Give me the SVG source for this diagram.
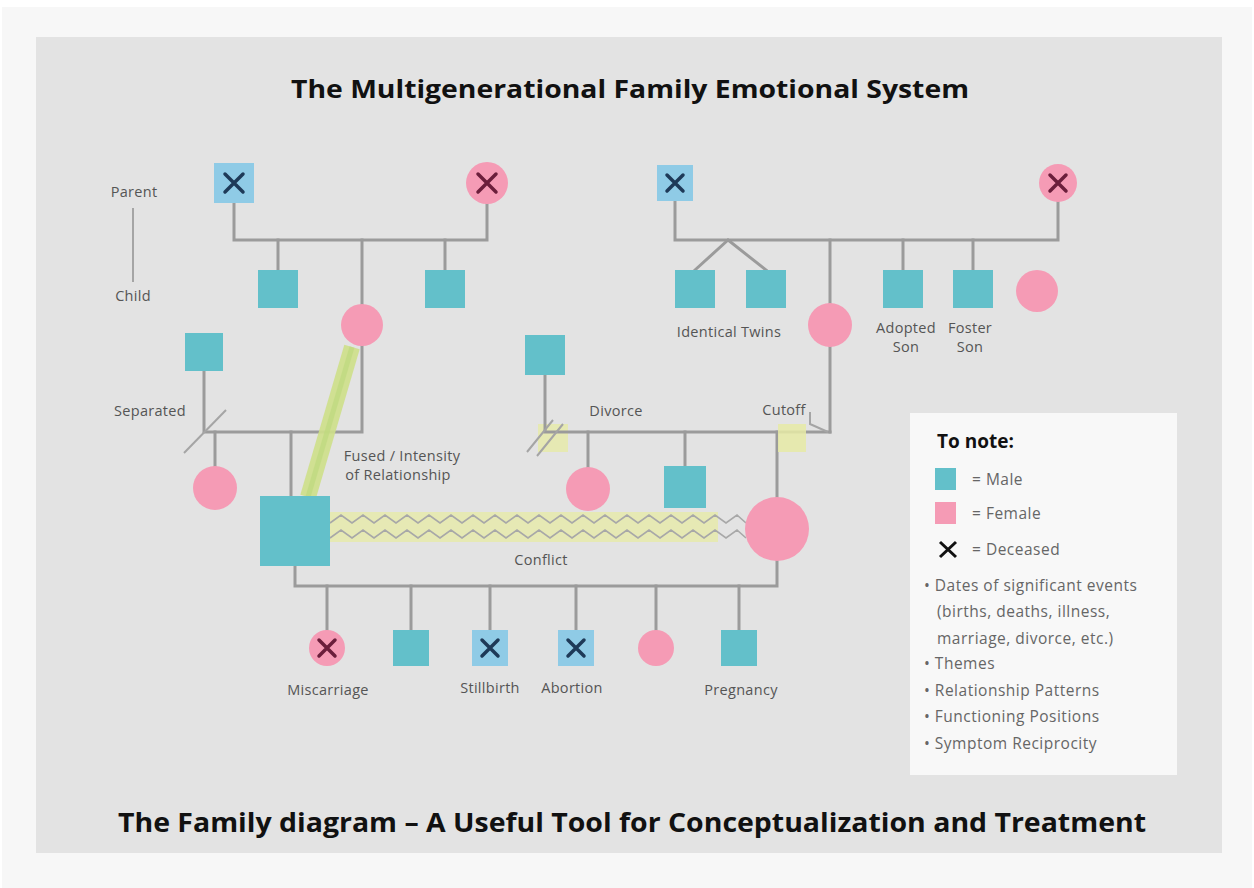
<svg xmlns="http://www.w3.org/2000/svg" width="1254" height="888" viewBox="0 0 1254 888">
<defs>
<style>
.ln{stroke:#9b9b9b;stroke-width:3;fill:none;stroke-linecap:square}
.thin{stroke:#a5a5a5;stroke-width:2;fill:none}
.m{fill:#63c0ca}
.mb{fill:#8fcbe6}
.f{fill:#f59bb5}
.xm{stroke:#1e3a58;stroke-width:3.5;stroke-linecap:round}
.xf{stroke:#6b1e3b;stroke-width:3.5;stroke-linecap:round}
.lbl{font-family:"Open Sans","Liberation Sans",sans-serif;font-size:14.5px;letter-spacing:0.3px;fill:#555;text-anchor:middle}
.ttl{font-family:"Open Sans","Liberation Sans",sans-serif;font-weight:700;fill:#111;text-anchor:middle}
.leg{font-family:"Open Sans","Liberation Sans",sans-serif;font-size:15.5px;letter-spacing:0.5px;fill:#666}
.zig{stroke:#a8a8a8;stroke-width:1.6;fill:none}
</style>
</defs>
<rect x="0" y="0" width="1254" height="888" fill="#ffffff"/>
<rect x="2" y="7" width="1250" height="881" fill="#f7f7f7"/>
<rect x="36" y="37" width="1186" height="816" fill="#e3e3e3"/>

<g id="titles">
<text class="ttl" x="630" y="98" font-size="25" textLength="678" lengthAdjust="spacingAndGlyphs">The Multigenerational Family Emotional System</text>
<text class="ttl" x="632" y="832" font-size="27" textLength="1028" lengthAdjust="spacingAndGlyphs">The Family diagram – A Useful Tool for Conceptualization and Treatment</text>
</g>

<g id="connectors">
<!-- legend parent/child -->
<path class="thin" d="M133,208 V282"/>
<!-- top-left family -->
<path class="ln" d="M234,203 V240 H487 V204"/>
<path class="ln" d="M278,240 V270 M362,240 V304 M445,240 V270"/>
<!-- top-right family -->
<path class="ln" d="M675,201 V240 H1058 V202"/>
<path class="ln" d="M728,240 L695,270 M728,240 L766,270"/>
<path class="ln" d="M830,240 V303 M830,347 V432"/>
<path class="ln" d="M903,240 V270 M973,240 V270"/>
<!-- left couple (separated) -->
<path class="ln" d="M204,371 V432 H362 V346"/>
<path class="ln" d="M215,432 V466 M291,432 V496"/>
<path class="thin" d="M184,453 L226,410"/>
<!-- right couple (divorced) -->
<rect x="538" y="424" width="30" height="28" fill="#e6eaa6" opacity="0.8"/>
<path class="ln" d="M545,375 V432 H830"/>
<path class="ln" d="M588,432 V467 M685,432 V466 M777,432 V497"/>
<path class="thin" d="M527,452 L553,420 M537,456 L563,424"/>
<!-- cutoff -->
<rect x="778" y="424" width="28" height="28" fill="#e6eaa6" opacity="0.85"/>
<path class="thin" d="M810,412 V424 L828,432"/>
<!-- fused / intensity band -->
<line x1="352" y1="347" x2="308" y2="497" stroke="#cfe08a" stroke-width="16" opacity="0.9"/>
<line x1="352" y1="347" x2="308" y2="497" stroke="#bcd97c" stroke-width="5" opacity="0.6"/>
<!-- conflict -->
<rect x="330" y="512" width="388" height="30" fill="#e6e9b4"/>
<polyline class="zig" points="330,523 341,515 352,523 363,515 374,523 385,515 396,523 407,515 418,523 429,515 440,523 451,515 462,523 473,515 484,523 495,515 506,523 517,515 528,523 539,515 550,523 561,515 572,523 583,515 594,523 605,515 616,523 627,515 638,523 649,515 660,523 671,515 682,523 693,515 704,523 715,515 726,523 737,515 746,523"/>
<polyline class="zig" points="330,538 341,530 352,538 363,530 374,538 385,530 396,538 407,530 418,538 429,530 440,538 451,530 462,538 473,530 484,538 495,530 506,538 517,530 528,538 539,530 550,538 561,530 572,538 583,530 594,538 605,530 616,538 627,530 638,538 649,530 660,538 671,530 682,538 693,530 704,538 715,530 726,538 737,530 746,538"/>
<!-- bottom sibship -->
<path class="ln" d="M295,566 V586 H777 V561"/>
<path class="ln" d="M327,586 V630 M411,586 V630 M490,586 V630 M576,586 V630 M656,586 V630 M739,586 V630"/>
</g>

<g id="legend-parent-child">
<text class="lbl" x="134" y="197" font-size="12.5">Parent</text>
<text class="lbl" x="133" y="301" font-size="12.5">Child</text>
</g>

<g id="n-gf1"><rect class="mb" x="214" y="163" width="40" height="40"/><path class="xm" d="M225,174 L243,192 M243,174 L225,192"/></g>
<g id="n-gm1"><circle class="f" cx="487" cy="183" r="21"/><path class="xf" d="M478,174 L496,192 M496,174 L478,192"/></g>
<g id="n-gf2"><rect class="mb" x="657" y="165" width="36" height="36"/><path class="xm" d="M667,175 L683,191 M683,175 L667,191"/></g>
<g id="n-gm2"><circle class="f" cx="1058" cy="183" r="19"/><path class="xf" d="M1050,175 L1066,191 M1066,175 L1050,191"/></g>

<g id="n-uncle1"><rect class="m" x="258" y="270" width="40" height="38"/></g>
<g id="n-mother1"><circle class="f" cx="362" cy="325" r="21"/></g>
<g id="n-uncle2"><rect class="m" x="425" y="270" width="40" height="38"/></g>
<g id="n-father1"><rect class="m" x="185" y="333" width="38" height="38" fill="#5fb6c9"/></g>

<g id="n-twin1"><rect class="m" x="675" y="270" width="40" height="38"/></g>
<g id="n-twin2"><rect class="m" x="746" y="270" width="40" height="38"/></g>
<g id="n-twins-label"><text class="lbl" x="729" y="337">Identical Twins</text></g>
<g id="n-mother2"><circle class="f" cx="830" cy="325" r="22"/></g>
<g id="n-adopted"><rect class="m" x="883" y="270" width="40" height="38"/><text class="lbl" x="906" y="333">Adopted</text><text class="lbl" x="906" y="352">Son</text></g>
<g id="n-foster"><rect class="m" x="953" y="270" width="40" height="38"/><text class="lbl" x="970" y="333">Foster</text><text class="lbl" x="970" y="352">Son</text></g>
<g id="n-aunt2"><circle class="f" cx="1037" cy="291" r="21"/></g>
<g id="n-father2"><rect class="m" x="525" y="335" width="40" height="40"/></g>

<g id="n-sep-label"><text class="lbl" x="150" y="416">Separated</text></g>
<g id="n-sister1"><circle class="f" cx="215" cy="488" r="22"/></g>
<g id="n-husband"><rect class="m" x="260" y="496" width="70" height="70" fill="#6bbdd0"/></g>
<g id="n-fused-label"><text class="lbl" x="402" y="461">Fused / Intensity</text><text class="lbl" x="398" y="480">of Relationship</text></g>
<g id="n-divorce-label"><text class="lbl" x="616" y="416">Divorce</text></g>
<g id="n-cutoff-label"><text class="lbl" x="784" y="415">Cutoff</text></g>
<g id="n-sister2"><circle class="f" cx="588" cy="489" r="22"/></g>
<g id="n-brother2"><rect class="m" x="664" y="466" width="42" height="42" fill="#66bcd0"/></g>
<g id="n-wife"><circle class="f" cx="777" cy="529" r="32"/></g>
<g id="n-conflict-label"><text class="lbl" x="541" y="565">Conflict</text></g>

<g id="n-miscarriage"><circle class="f" cx="327" cy="648" r="18"/><path class="xf" d="M319,640 L335,656 M335,640 L319,656"/><text class="lbl" x="328" y="695">Miscarriage</text></g>
<g id="n-son1"><rect class="m" x="393" y="630" width="36" height="36"/></g>
<g id="n-stillbirth"><rect class="mb" x="472" y="630" width="36" height="36"/><path class="xm" d="M482,640 L498,656 M498,640 L482,656"/><text class="lbl" x="490" y="693">Stillbirth</text></g>
<g id="n-abortion"><rect class="mb" x="558" y="630" width="36" height="36" fill="#7fc6dc"/><path class="xm" d="M568,640 L584,656 M584,640 L568,656"/><text class="lbl" x="572" y="693">Abortion</text></g>
<g id="n-daughter"><circle class="f" cx="656" cy="648" r="18"/></g>
<g id="n-pregnancy"><rect class="m" x="721" y="630" width="36" height="36"/><text class="lbl" x="741" y="695">Pregnancy</text></g>

<g id="legend">
<rect x="910" y="413" width="267" height="362" fill="#f8f8f8"/>
<text x="937" y="448" font-family="Open Sans, Liberation Sans, sans-serif" font-size="19" font-weight="700" fill="#111">To note:</text>
<rect class="m" x="935" y="468" width="21" height="22"/>
<text class="leg" x="972" y="485">= Male</text>
<rect class="f" x="935" y="502" width="21" height="22"/>
<text class="leg" x="972" y="519">= Female</text>
<path d="M940,542 L956,557 M956,542 L940,557" stroke="#111" stroke-width="3"/>
<text class="leg" x="972" y="555">= Deceased</text>
<text class="leg" x="924" y="591">• Dates of significant events</text>
<text class="leg" x="937" y="617">(births, deaths, illness,</text>
<text class="leg" x="937" y="644">marriage, divorce, etc.)</text>
<text class="leg" x="924" y="669">• Themes</text>
<text class="leg" x="924" y="696">• Relationship Patterns</text>
<text class="leg" x="924" y="722">• Functioning Positions</text>
<text class="leg" x="924" y="749">• Symptom Reciprocity</text>
</g>
</svg>
